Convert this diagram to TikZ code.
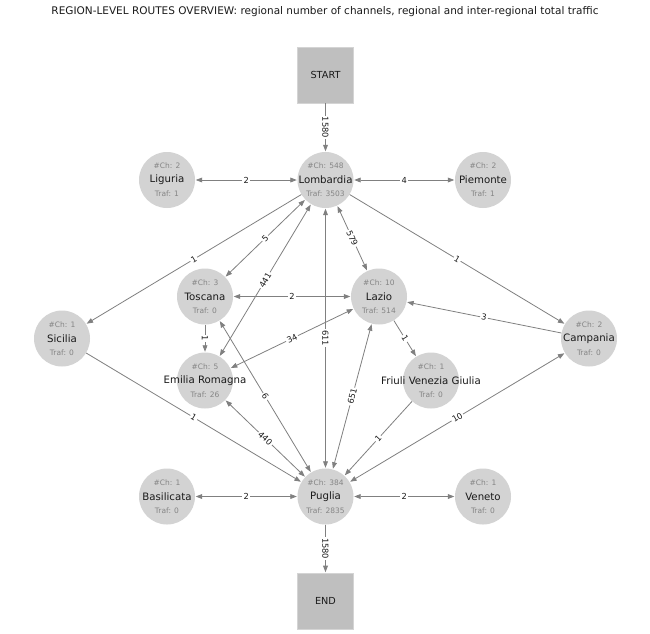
\documentclass[tikz,border=0pt]{standalone}
\usepackage{fontspec}
\setmainfont{DejaVu Sans}
\usetikzlibrary{arrows.meta}
\definecolor{edgegray}{HTML}{808080}
\definecolor{nodegray}{HTML}{D3D3D3}
\definecolor{sqgray}{HTML}{BFBFBF}
\definecolor{sqline}{HTML}{D4D4D4}
\definecolor{txtgray}{HTML}{858585}
\definecolor{txtdark}{HTML}{1A1A1A}
\begin{document}
\begin{tikzpicture}[x=1pt,y=-1pt,
  reg/.style={circle, fill=nodegray, minimum size=56pt, inner sep=0pt},
  sq/.style={rectangle, fill=sqgray, draw=sqline, line width=0.6pt, minimum size=56pt, inner sep=0pt, text=txtdark, font=\fontsize{9.7}{11}\selectfont},
  tip/.tip={Triangle[length=6.5pt,width=4.8pt]},
  edge/.style={draw=edgegray, line width=0.8pt, -tip, shorten >=0.5pt},
  edgeb/.style={draw=edgegray, line width=0.8pt, tip-tip, shorten >=0.5pt, shorten <=0.5pt},
  lbl/.style={fill=white, inner sep=1.2pt, text=txtdark, font=\fontsize{8.3}{10}\selectfont},
  chtxt/.style={font=\fontsize{7.5}{9}\selectfont, text=txtgray, inner sep=0pt},
  nametxt/.style={font=\fontsize{10.2}{12}\selectfont, text=txtdark, inner sep=0pt},
  titletxt/.style={font=\fontsize{10.5}{12}\selectfont, text=txtdark, inner sep=0pt}
]
\useasboundingbox (0,0) rectangle (650,633);
\fill[white] (0,0) rectangle (650,633);

\node[titletxt] (title) at (325,12) {REGION-LEVEL ROUTES OVERVIEW: regional number of channels, regional and inter-regional total traffic};

% circles
\node[reg] (lig) at (167,180) {};
\node[reg] (lom) at (325.5,180) {};
\node[reg] (pie) at (483,180) {};
\node[reg] (tos) at (205,296.5) {};
\node[reg] (laz) at (379,296.5) {};
\node[reg] (sic) at (62,338.5) {};
\node[reg] (cam) at (589,338.5) {};
\node[reg] (emi) at (205,380.5) {};
\node[reg] (fri) at (431,380.5) {};
\node[reg] (bas) at (167,496.5) {};
\node[reg] (pug) at (325.5,496.5) {};
\node[reg] (ven) at (483,496.5) {};
\node[sq] (start) at (325.5,75) {START};
\node[sq] (end) at (325.5,601) {END};

% edges
\draw[edge] (start) -- node[lbl, rotate=-90] (l1) {1580} (lom);
\draw[edgeb] (lig) -- node[lbl] (l2) {2} (lom);
\draw[edgeb] (lom) -- node[lbl] (l3) {4} (pie);
\draw[edge] (lom) -- node[lbl, sloped] (l4) {1} (sic);
\draw[edgeb] (lom) -- node[lbl, sloped] (l5) {5} (tos);
\draw[edgeb] (emi) -- node[lbl, sloped] (l6) {441} (lom);
\draw[edgeb] (lom) -- node[lbl, rotate=-90] (l7) {611} (pug);
\draw[edgeb] (lom) -- node[lbl, sloped] (l8) {579} (laz);
\draw[edge] (lom) -- node[lbl, sloped] (l9) {1} (cam);
\draw[edgeb] (tos) -- node[lbl] (l10) {2} (laz);
\draw[edge] (tos) -- node[lbl, rotate=-90] (l11) {1} (emi);
\draw[edgeb] (emi) -- node[lbl, sloped] (l12) {34} (laz);
\draw[edgeb] (tos) -- node[lbl, sloped] (l13) {6} (pug);
\draw[edgeb] (emi) -- node[lbl, sloped] (l14) {440} (pug);
\draw[edge] (sic) -- node[lbl, sloped] (l15) {1} (pug);
\draw[edgeb] (pug) -- node[lbl, sloped] (l16) {651} (laz);
\draw[edge] (laz) -- node[lbl, sloped] (l17) {1} (fri);
\draw[edge] (cam) -- node[lbl, sloped] (l18) {3} (laz);
\draw[edge] (fri) -- node[lbl, sloped] (l19) {1} (pug);
\draw[edgeb] (pug) -- node[lbl, sloped] (l20) {10} (cam);
\draw[edgeb] (bas) -- node[lbl] (l21) {2} (pug);
\draw[edgeb] (pug) -- node[lbl] (l22) {2} (ven);
\draw[edge] (pug) -- node[lbl, rotate=-90] (l23) {1580} (end);

% texts
\foreach \n/\x/\y/\c/\t/\f in {
  lig/167/180/2/Liguria/1,
  lom/325.5/180/548/Lombardia/3503,
  pie/483/180/2/Piemonte/1,
  tos/205/296.5/3/Toscana/0,
  laz/379/296.5/10/Lazio/514,
  sic/62/338.5/1/Sicilia/0,
  cam/589/338.5/2/Campania/0,
  emi/205/380.5/5/Emilia Romagna/26,
  fri/431/380.5/1/Friuli Venezia Giulia/0,
  bas/167/496.5/1/Basilicata/0,
  pug/325.5/496.5/384/Puglia/2835,
  ven/483/496.5/1/Veneto/0}{
  \node[chtxt] (\n ch) at (\x,\y-14) {\#Ch: \c};
  \node[nametxt] (\n nm) at (\x,\y) {\t};
  \node[chtxt] (\n tr) at (\x,\y+14) {Traf: \f};
}
\end{tikzpicture}
\end{document}
